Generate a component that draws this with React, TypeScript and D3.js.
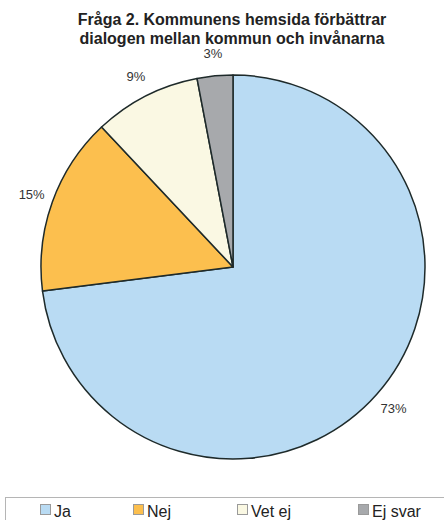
import React, { useEffect, useRef } from "react";
import * as d3 from "d3";

const categories = ["Ja", "Nej", "Vet ej", "Ej svar"];
const values = [73, 15, 9, 3];
const colors = ["#b9dbf3", "#fcbf4e", "#faf8e3", "#a7a9ac"];
const titleLines = ["Fråga 2. Kommunens hemsida förbättrar", "dialogen mellan kommun och invånarna"];
const legendX = [40, 133, 237, 358];

const App = () => {
  const svgRef = useRef<SVGSVGElement>(null);

  useEffect(() => {
    const w = 444;
    const h = 520;
    const cx = 233;
    const cy = 267;
    const r = 192;

    const svg = d3.select(svgRef.current);
    svg.selectAll("*").remove();
    svg.attr("width", w).attr("height", h);

    svg
      .append("rect")
      .attr("width", w)
      .attr("height", h)
      .attr("fill", "#fff");

    // title
    svg
      .append("g")
      .selectAll("text")
      .data(titleLines)
      .join("text")
      .attr("x", 232)
      .attr("y", (d, i) => 25 + i * 19)
      .attr("text-anchor", "middle")
      .attr("font-family", "Liberation Sans, Arial, sans-serif")
      .attr("font-weight", "bold")
      .attr("font-size", 16)
      .attr("fill", "#222")
      .text((d) => d);

    const pie = d3.pie<number>().sort(null).value((d) => d);
    const arcs = pie(values);
    const arc = d3.arc<d3.PieArcDatum<number>>().innerRadius(0).outerRadius(r);
    const labelArc = d3
      .arc<d3.PieArcDatum<number>>()
      .innerRadius(r + 22)
      .outerRadius(r + 22);

    const g = svg.append("g").attr("transform", `translate(${cx},${cy})`);

    g.selectAll("path")
      .data(arcs)
      .join("path")
      .attr("d", arc)
      .attr("fill", (d, i) => colors[i])
      .attr("stroke", "#1e2a2a")
      .attr("stroke-width", 1.5)
      .attr("stroke-linejoin", "round");

    g.selectAll("text")
      .data(arcs)
      .join("text")
      .attr("transform", (d) => `translate(${labelArc.centroid(d)})`)
      .attr("text-anchor", "middle")
      .attr("dominant-baseline", "central")
      .attr("font-family", "Liberation Sans, Arial, sans-serif")
      .attr("font-size", 13)
      .attr("fill", "#333")
      .text((d) => `${d.data}%`);

    // legend
    svg
      .append("rect")
      .attr("x", 5.5)
      .attr("y", 497.5)
      .attr("width", 450)
      .attr("height", 40)
      .attr("fill", "none")
      .attr("stroke", "#b5b5b5")
      .attr("stroke-width", 1);

    const legend = svg
      .append("g")
      .selectAll("g")
      .data(categories)
      .join("g")
      .attr("transform", (d, i) => `translate(${legendX[i]},504)`);

    legend
      .append("rect")
      .attr("x", 0.5)
      .attr("y", 0.5)
      .attr("width", 10)
      .attr("height", 10)
      .attr("fill", (d, i) => colors[i])
      .attr("stroke", "#9a9a9a")
      .attr("stroke-width", 1);

    legend
      .append("text")
      .attr("x", 14)
      .attr("y", 12.5)
      .attr("font-family", "Liberation Sans, Arial, sans-serif")
      .attr("font-size", 16)
      .attr("fill", "#222")
      .text((d) => d);
  }, []);

  return (
    <svg
      ref={svgRef}
      style={{ position: "absolute", left: 0, top: 0, display: "block" }}
    />
  );
};

export default App;
